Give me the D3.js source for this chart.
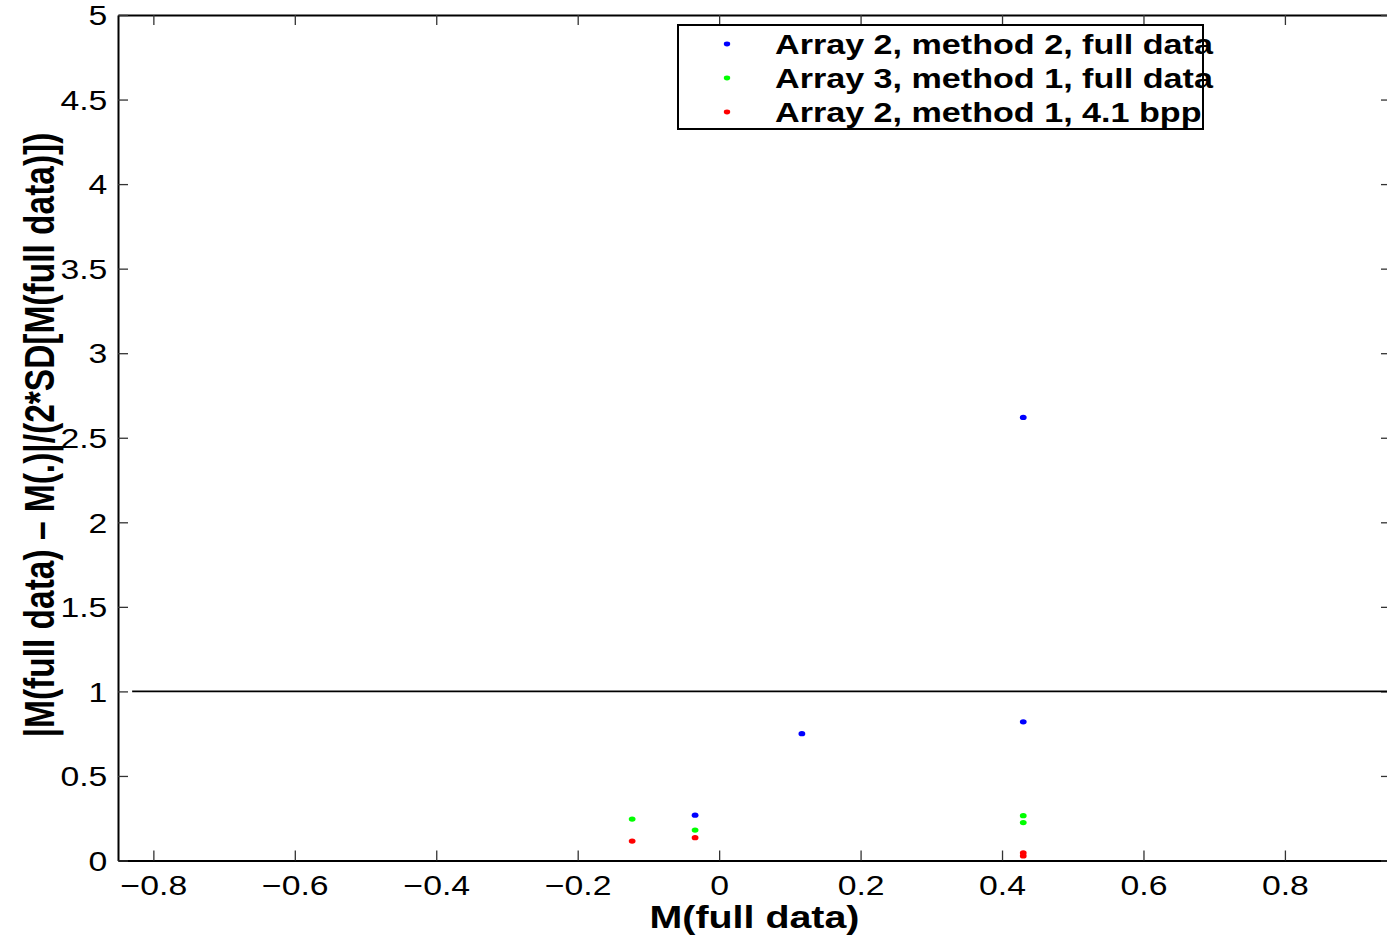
<!DOCTYPE html>
<html>
<head>
<meta charset="utf-8">
<script src="https://cdn.jsdelivr.net/npm/d3@7"></script>
<style>
  body { margin: 0; background: #fff; }
  text { font-family: "Liberation Sans", Arial, sans-serif; }
</style>
</head>
<body>
<div id="chart"></div>
<script>
var w = 1387, h = 939;
var stretch = 1.25; // the picture is wider than tall, text is stretched sideways

// data
var blueX = [0.43, 0.43, 0.117, -0.034];
var blueY = [2.62, 0.82, 0.75, 0.268];
var greenX = [-0.123, -0.034, 0.43, 0.43];
var greenY = [0.245, 0.18, 0.265, 0.224];
var redX = [-0.123, -0.034, 0.43, 0.43];
var redY = [0.115, 0.135, 0.045, 0.027];

var seriesNames = ["Array 2, method 2, full data", "Array 3, method 1, full data", "Array 2, method 1, 4.1 bpp"];
var seriesColors = ["#0000ff", "#00ff00", "#ff0000"];

var xTicks = [-0.8, -0.6, -0.4, -0.2, 0, 0.2, 0.4, 0.6, 0.8];
var yTicks = [0, 0.5, 1, 1.5, 2, 2.5, 3, 3.5, 4, 4.5, 5];
var refLineY = 1;
var refLineX = [-0.83, 0.95];

var series = [
  {x: blueX, y: blueY},
  {x: greenX, y: greenY},
  {x: redX, y: redY}
];

var xScale = d3.scaleLinear().domain([-0.85, 0.95]).range([118, 1391]);
var yScale = d3.scaleLinear().domain([0, 5]).range([860.5, 15]);

var svg = d3.select("#chart").append("svg")
  .attr("width", w)
  .attr("height", h);

var fmt = d3.format("~f");

// axes, ticks pointing inward
var xAxis = svg.append("g")
  .attr("transform", "translate(0," + yScale(0) + ")")
  .call(d3.axisBottom(xScale).tickValues(xTicks).tickFormat(fmt).tickSizeInner(-10).tickSizeOuter(0));
var xTop = svg.append("g")
  .attr("transform", "translate(0," + yScale(5) + ")")
  .call(d3.axisTop(xScale).tickValues(xTicks).tickFormat("").tickSizeInner(-10).tickSizeOuter(0));
var yAxis = svg.append("g")
  .attr("transform", "translate(" + xScale(-0.85) + ",0)")
  .call(d3.axisLeft(yScale).tickValues(yTicks).tickFormat(fmt).tickSizeInner(-10).tickSizeOuter(0));
var yRight = svg.append("g")
  .attr("transform", "translate(" + xScale(0.95) + ",0)")
  .call(d3.axisRight(yScale).tickValues(yTicks).tickFormat("").tickSizeInner(-10).tickSizeOuter(0));

svg.selectAll(".domain").attr("stroke", "#000").attr("stroke-width", 2);
svg.selectAll(".tick line").attr("stroke", "#333").attr("stroke-width", 1.3);

xAxis.selectAll(".tick text")
  .attr("font-size", "27px")
  .attr("fill", "#000")
  .attr("y", 35).attr("dy", 0)
  .attr("transform", "scale(" + stretch + ",1)");
yAxis.selectAll(".tick text")
  .attr("font-size", "27px")
  .attr("fill", "#000")
  .attr("x", -8.5)
  .attr("dy", "0.36em")
  .attr("transform", "scale(" + stretch + ",1)");

// reference line at 1
svg.append("line")
  .attr("x1", xScale(refLineX[0]))
  .attr("x2", xScale(refLineX[1]))
  .attr("y1", yScale(refLineY))
  .attr("y2", yScale(refLineY))
  .attr("stroke", "#000")
  .attr("stroke-width", 1.6);

// points
series.forEach(function(s, i) {
  svg.append("g").selectAll("ellipse")
    .data(s.x)
    .enter()
    .append("ellipse")
    .attr("cx", function(d) { return xScale(d); })
    .attr("cy", function(d, j) { return yScale(s.y[j]); })
    .attr("rx", 3.4)
    .attr("ry", 2.6)
    .attr("fill", seriesColors[i]);
});

// legend
var legend = svg.append("g");
legend.append("rect")
  .attr("x", 678).attr("y", 25)
  .attr("width", 525).attr("height", 104)
  .attr("fill", "#fff")
  .attr("stroke", "#000")
  .attr("stroke-width", 2);
seriesNames.forEach(function(name, i) {
  var cy = 44 + i * 34;
  legend.append("ellipse")
    .attr("cx", 727).attr("cy", cy)
    .attr("rx", 3.2).attr("ry", 2.4)
    .attr("fill", seriesColors[i]);
  legend.append("text")
    .attr("transform", "translate(775," + (cy + 10) + ") scale(" + stretch + ",1)")
    .attr("font-size", "27.3px")
    .attr("font-weight", "bold")
    .text(name);
});

// axis labels
svg.append("text")
  .attr("transform", "translate(" + (118 + 1391) / 2 + ",928) scale(" + stretch + ",1)")
  .attr("text-anchor", "middle")
  .attr("font-size", "31.5px")
  .attr("font-weight", "bold")
  .text("M(full data)");

svg.append("text")
  .attr("transform", "translate(54,435) scale(" + stretch + ",1) rotate(-90)")
  .attr("text-anchor", "middle")
  .attr("font-size", "33.5px")
  .attr("font-weight", "bold")
  .text("|M(full data) \u2013 M(.)|/(2*SD[M(full data)])");
</script>
</body>
</html>
